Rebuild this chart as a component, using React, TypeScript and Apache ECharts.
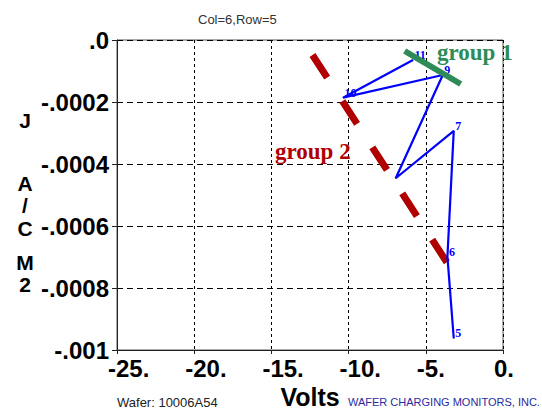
import React, { useEffect, useRef } from "react";
import * as echarts from "echarts";

// ---- data ----
const pointNames = ["5", "6", "7", "", "9", "10", "11"];
const volts = [-3.19, -3.6, -3.19, -6.95, -3.9, -10.36, -5.83];
const current = [-0.000962, -0.000699, -0.000293, -0.000446, -0.000113, -0.000186, -0.0000645];

const group1Volts = [-6.37, -2.74];
const group1Current = [-0.0000355, -0.000142];
const group2Volts = [-12.34, -3.56];
const group2Current = [-0.0000484, -0.000723];

const xTickLabels = ["-25.", "-20.", "-15.", "-10.", "-5.", "0."];
const yTickLabels = [".0", "-.0002", "-.0004", "-.0006", "-.0008", "-.001"];
const yTitleLetters = ["J", "A", "/", "C", "M", "2"];

const SANS = "'Liberation Sans', Arial, sans-serif";
const SERIF = "'Liberation Serif', 'Times New Roman', serif";

export default function App() {
  const ref = useRef<HTMLDivElement>(null);

  useEffect(() => {
    if (!ref.current) return;
    const chart = echarts.init(ref.current, undefined, { renderer: "svg" });

    const letterY = [120, 183, 205, 228, 262, 284];

    const option: any = {
      animation: false,
      backgroundColor: "#ffffff",
      grid: {
        left: 117,
        right: 39,
        top: 40,
        bottom: 58,
        containLabel: false,
        outerBoundsMode: "none",
        show: true,
        borderColor: "#555",
        borderWidth: 1,
        backgroundColor: "transparent",
      },
      xAxis: {
        type: "value",
        min: -25,
        max: 0,
        interval: 5,
        name: "Volts",
        nameLocation: "middle",
        nameGap: 27,
        nameTextStyle: {
          fontFamily: SANS,
          fontSize: 25,
          fontWeight: "bold",
          color: "#000",
          lineHeight: 22,
        },
        axisLine: { show: true, onZero: false, lineStyle: { color: "#222", width: 1 } },
        axisTick: { show: true, length: 4, lineStyle: { color: "#222" } },
        axisLabel: {
          interval: 0,
          showMinLabel: true,
          showMaxLabel: true,
          margin: 6,
          align: "left",
          padding: [0, 0, 0, -9],
          fontFamily: SANS,
          fontSize: 24,
          fontWeight: "bold",
          color: "#000",
          formatter: (v: number) => xTickLabels[Math.round((v + 25) / 5)] ?? "",
        },
        splitLine: { show: true, lineStyle: { color: "#000", type: [3, 3], width: 1 } },
      },
      yAxis: {
        type: "value",
        min: -0.001,
        max: 0,
        interval: 0.0002,
        axisLine: { show: true, onZero: false, lineStyle: { color: "#222", width: 1 } },
        axisTick: { show: true, length: 5, lineStyle: { color: "#222" } },
        axisLabel: {
          showMinLabel: true,
          showMaxLabel: true,
          margin: 8,
          fontFamily: SANS,
          fontSize: 24,
          fontWeight: "bold",
          color: "#000",
          formatter: (v: number) => yTickLabels[Math.round(-v / 0.0002)] ?? "",
        },
        splitLine: { show: true, lineStyle: { color: "#000", type: [6, 4], width: 1 } },
      },
      series: [
        {
          type: "line",
          z: 1,
          data: group2Volts.map((v, i) => [v, group2Current[i]]),
          symbol: "none",
          lineStyle: { color: "#b00000", width: 7, type: [27, 28], cap: "butt" },
          silent: true,
        },
        {
          type: "line",
          z: 2,
          data: volts.map((v, i) => ({ name: pointNames[i], value: [v, current[i]] })),
          symbol: "circle",
          symbolSize: 1,
          itemStyle: { color: "#0000ff" },
          lineStyle: { color: "#0000ff", width: 2.2 },
          label: {
            show: true,
            position: "right",
            distance: 1,
            offset: [0, -5],
            formatter: (p: any) => p.name,
            fontFamily: SERIF,
            fontSize: 12,
            fontWeight: "bold",
            color: "#0000ff",
          },
        },
        {
          type: "line",
          z: 3,
          data: group1Volts.map((v, i) => [v, group1Current[i]]),
          symbol: "none",
          lineStyle: { color: "#2e8b57", width: 6, cap: "butt" },
          silent: true,
        },
      ],
      graphic: [
        {
          type: "text",
          left: 198,
          top: 13,
          style: { text: "Col=6,Row=5", font: `13px ${SANS}`, fill: "#333" },
        },
        {
          type: "text",
          x: 437,
          y: 52,
          z: 10,
          style: { text: "group 1", font: `bold 23px ${SERIF}`, fill: "#2e8b57", verticalAlign: "middle" },
        },
        {
          type: "text",
          x: 275,
          y: 151,
          z: 10,
          style: { text: "group 2", font: `bold 23px ${SERIF}`, fill: "#b00000", verticalAlign: "middle" },
        },
        ...yTitleLetters.map((t, i) => ({
          type: "text",
          x: 25,
          y: letterY[i],
          style: {
            text: t,
            font: `bold 21px ${SANS}`,
            fill: "#000",
            align: "center",
            verticalAlign: "middle",
          },
        })),
        {
          type: "text",
          x: 117,
          y: 402,
          style: { text: "Wafer: 10006A54", font: `13px ${SANS}`, fill: "#222", verticalAlign: "middle" },
        },
        {
          type: "text",
          x: 348,
          y: 402,
          style: {
            text: "WAFER CHARGING MONITORS, INC.",
            font: `11px ${SANS}`,
            fill: "#2b2ba0",
            verticalAlign: "middle",
          },
        },
      ],
    };

    chart.setOption(option);
    return () => chart.dispose();
  }, []);

  return (
    <div
      ref={ref}
      style={{ position: "fixed", left: 0, top: 0, width: 542, height: 408 }}
    />
  );
}
